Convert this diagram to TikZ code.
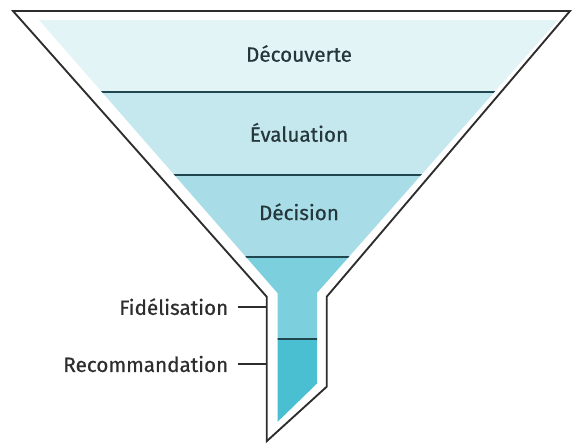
\documentclass[tikz,border=0pt]{standalone}
\usepackage{fontspec}
\setmainfont{Fira Sans}
\newfontfamily\stagefont{Fira Sans}[FakeBold=0.6]
\usepackage{xcolor}
\usepackage{tikz}

\definecolor{bandA}{RGB}{227,244,247}
\definecolor{bandB}{RGB}{197,232,238}
\definecolor{bandC}{RGB}{168,220,230}
\definecolor{bandD}{RGB}{124,207,220}
\definecolor{bandE}{RGB}{75,191,210}
\definecolor{sepcol}{RGB}{32,71,79}
\definecolor{outcol}{RGB}{45,45,45}
\definecolor{txtcol}{RGB}{38,55,60}

\begin{document}
\begin{tikzpicture}[x=0.75pt,y=0.75pt,yscale=-1,xscale=1,
  funnel/.style={draw=outcol,line width=1.4pt,line join=miter},
  sepline/.style={draw=sepcol,line width=1.4pt},
  stage/.style={inner sep=0.75pt,font=\stagefont\fontsize{15.5}{18}\selectfont,text=txtcol},
  side/.style={inner sep=0.75pt,font=\stagefont\fontsize{15.5}{18}\selectfont,text=outcol},
  tick/.style={draw=outcol,line width=1.3pt}]
\useasboundingbox (0,0) rectangle (573,443);

%Shape: inner fill, bands
\begin{scope}
\clip (39,20) -- (558,20) -- (317.2,292.7) -- (317.2,383.3) -- (277.7,421.7) -- (277.7,293.3) -- cycle;
\fill [bandA] (0,0) rectangle (573,91.7);
\fill [bandB] (0,91.7) rectangle (573,175);
\fill [bandC] (0,175) rectangle (573,257.3);
\fill [bandD] (0,257.3) rectangle (573,339.3);
\fill [bandE] (0,339.3) rectangle (573,443);
%Straight Lines: separators
\draw [sepline] (0,91.7) -- (573,91.7);
\draw [sepline] (0,175) -- (573,175);
\draw [sepline] (0,257.3) -- (573,257.3);
\draw [sepline] (0,339.3) -- (573,339.3);
\end{scope}

%Shape: outline
\draw [funnel] (13,11) -- (570,11) -- (326.7,296.7) -- (326.7,386.7) -- (266.7,441.2) -- (266.7,296.7) -- cycle;

% Text Node
\node [stage,anchor=base] (decouverte) at (299,61.7) {Découverte};
% Text Node
\node [stage,anchor=base] (evaluation) at (299,141.7) {Évaluation};
% Text Node
\node [stage,anchor=base] (decision) at (299,220) {Décision};
% Text Node
\node [side,anchor=east] (fidelisation) at (229.5,306.7) {Fidélisation};
% Text Node
\node [side,anchor=east] (recommandation) at (229.5,364) {Recommandation};

%Straight Lines: ticks
\coordinate (fidend) at (266.7,306.7);
\coordinate (recend) at (266.7,364);
\draw [tick] ([xshift=6pt]fidelisation.east) -- (fidend);
\draw [tick] ([xshift=6pt]recommandation.east) -- (recend);
\end{tikzpicture}
\end{document}
